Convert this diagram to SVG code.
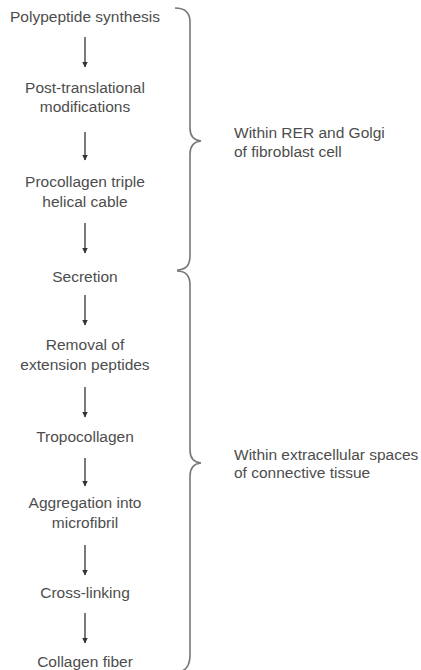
<svg xmlns="http://www.w3.org/2000/svg" width="421" height="670" viewBox="0 0 421 670">
<style>
  text { font-family: "Liberation Sans", Arial, sans-serif; font-size: 15.5px; fill: #4d4d4d; }
  .c { text-anchor: middle; }
  .arrow { stroke: #333; stroke-width: 1.3; fill: none; }
  .brace { stroke: #777; stroke-width: 1.6; fill: none; }
</style>
<defs>
  <marker id="ah" viewBox="0 0 10 10" refX="9" refY="5" markerWidth="5.5" markerHeight="5.5" markerUnits="userSpaceOnUse" orient="auto">
    <path d="M0,0 L10,5 L0,10 z" fill="#333"/>
  </marker>
</defs>
<rect width="421" height="670" fill="#ffffff"/>

<g id="n1"><text class="c" x="85" y="22">Polypeptide synthesis</text></g>
<g id="n2"><text class="c" x="85" y="92.5">Post-translational</text><text class="c" x="85" y="112">modifications</text></g>
<g id="n3"><text class="c" x="85" y="187">Procollagen triple</text><text class="c" x="85" y="207">helical cable</text></g>
<g id="n4"><text class="c" x="85" y="282">Secretion</text></g>
<g id="n5"><text class="c" x="85" y="350">Removal of</text><text class="c" x="85" y="370">extension peptides</text></g>
<g id="n6"><text class="c" x="85" y="442">Tropocollagen</text></g>
<g id="n7"><text class="c" x="85" y="508">Aggregation into</text><text class="c" x="85" y="528">microfibril</text></g>
<g id="n8"><text class="c" x="85" y="598">Cross-linking</text></g>
<g id="n9"><text class="c" x="85" y="667">Collagen fiber</text></g>

<g id="label-rer"><text x="234" y="138">Within RER and Golgi</text><text x="234" y="157">of fibroblast cell</text></g>
<g id="label-ecm"><text x="234" y="460">Within extracellular spaces</text><text x="234" y="478">of connective tissue</text></g>

<g id="connectors">
  <line class="arrow" x1="85" y1="37" x2="85" y2="67" marker-end="url(#ah)"/>
  <line class="arrow" x1="85" y1="132" x2="85" y2="160" marker-end="url(#ah)"/>
  <line class="arrow" x1="85" y1="223" x2="85" y2="253" marker-end="url(#ah)"/>
  <line class="arrow" x1="85" y1="295" x2="85" y2="325" marker-end="url(#ah)"/>
  <line class="arrow" x1="85" y1="387" x2="85" y2="417" marker-end="url(#ah)"/>
  <line class="arrow" x1="85" y1="458" x2="85" y2="486" marker-end="url(#ah)"/>
  <line class="arrow" x1="85" y1="545" x2="85" y2="575" marker-end="url(#ah)"/>
  <line class="arrow" x1="85" y1="613" x2="85" y2="643" marker-end="url(#ah)"/>
</g>

<g id="braces">
  <path class="brace" d="M175,8 Q190,8 190,22 L190,128 Q190,140 201,141 Q190,142 190,154 L190,256 Q190,270 177,270"/>
  <path class="brace" d="M177,271 Q190,271 190,285 L190,450 Q190,462 201,463 Q190,464 190,476 L190,655 Q190,668 182,671"/>
</g>
</svg>
